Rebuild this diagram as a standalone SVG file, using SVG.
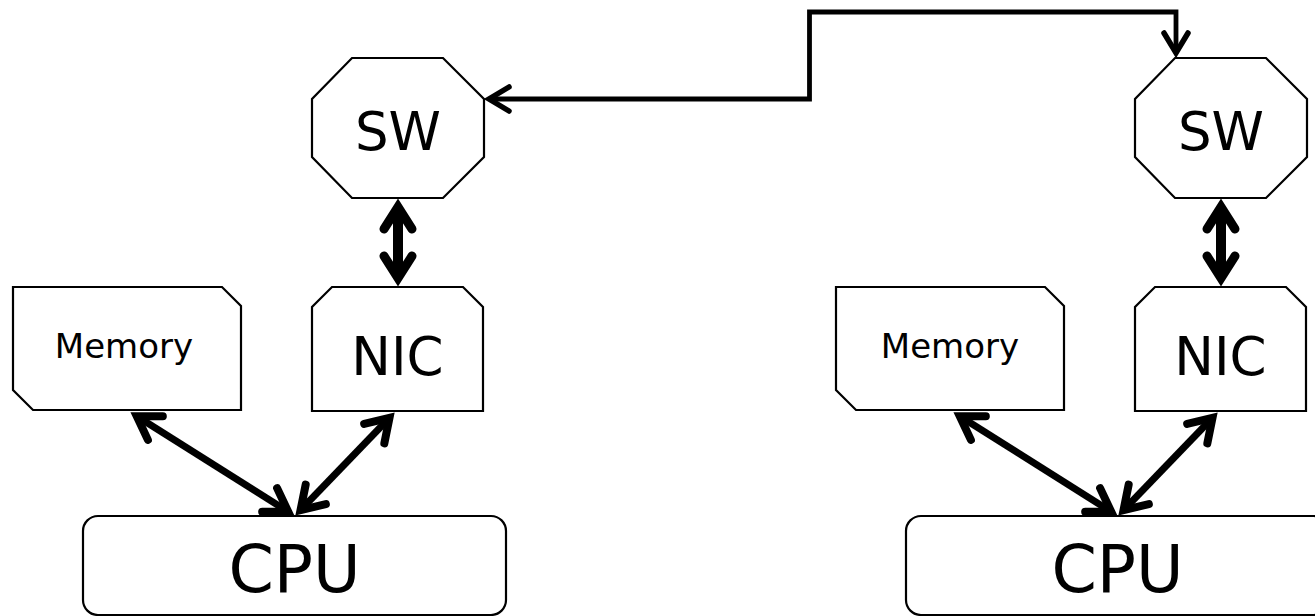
<svg xmlns="http://www.w3.org/2000/svg" width="1315" height="616" viewBox="0 0 1315 616">
<style>
.shape{fill:#fff;stroke:#000;stroke-width:2.2;stroke-linejoin:miter}
.lbl{font-family:"DejaVu Sans","Liberation Sans",sans-serif;fill:#000;text-anchor:middle}
.big{font-size:53px}
.cpu{font-size:65px}
.mem{font-size:34px}
.bus{fill:none;stroke:#000;stroke-width:4.8;marker-start:url(#ah-bus);marker-end:url(#ah-bus)}
.vert{fill:none;stroke:#000;stroke-width:10;marker-start:url(#ah-vert);marker-end:url(#ah-vert)}
.diag{fill:none;stroke:#000;stroke-width:7;marker-start:url(#ah-diag);marker-end:url(#ah-diag)}
</style>
<defs>
<marker id="ah-bus" markerUnits="userSpaceOnUse" refX="-6" refY="0" markerWidth="60" markerHeight="60" orient="auto-start-reverse" overflow="visible">
<path d="M-25,-12 L-5,0 L-25,12" fill="none" stroke="#000" stroke-width="5.5" stroke-linecap="round" stroke-linejoin="miter"/>
</marker>
<marker id="ah-vert" markerUnits="userSpaceOnUse" refX="-12" refY="0" markerWidth="80" markerHeight="80" orient="auto-start-reverse" overflow="visible">
<path d="M-31,-14 L-9,0 L-31,14" fill="none" stroke="#000" stroke-width="9" stroke-linecap="round" stroke-linejoin="miter"/>
</marker>
<marker id="ah-diag" markerUnits="userSpaceOnUse" refX="-9" refY="0" markerWidth="80" markerHeight="80" orient="auto-start-reverse" overflow="visible">
<path d="M-30,-14 L-8,0 L-30,14" fill="none" stroke="#000" stroke-width="8" stroke-linecap="round" stroke-linejoin="miter"/>
</marker>
</defs>
<g id="connectors">
<path class="bus" d="M490,99 H809.5 V12 H1176 V52"/>
<path class="vert" d="M398,210 V275"/>
<path class="diag" d="M137.6,416.8 L287.4,511.2"/>
<path class="diag" d="M388.8,418.5 L301.2,509.5"/>
<path class="vert" d="M1221,210 V275"/>
<path class="diag" d="M960.6,416.8 L1110.4,511.2"/>
<path class="diag" d="M1211.8,418.5 L1124.2,509.5"/>
</g>
<g id="sw-left">
<polygon class="shape" points="352,58 443,58 484,99 484,157 443,198 352,198 312,157 312,99"/>
<text class="lbl big" x="398" y="150">SW</text>
</g>
<g id="nic-left">
<polygon class="shape" points="332,287 463,287 483,307 483,411 312,411 312,307"/>
<text class="lbl big" x="397.5" y="375">NIC</text>
</g>
<g id="memory-left">
<polygon class="shape" points="13,287 222,287 241,306 241,410 33,410 13,390"/>
<text class="lbl mem" x="124" y="358">Memory</text>
</g>
<g id="cpu-left">
<rect class="shape" x="83" y="516" width="423" height="99" rx="15"/>
<text class="lbl cpu" x="294.5" y="592">CPU</text>
</g>
<g id="sw-right">
<polygon class="shape" points="1175,58 1266,58 1307,99 1307,157 1266,198 1175,198 1135,157 1135,99"/>
<text class="lbl big" x="1221" y="150">SW</text>
</g>
<g id="nic-right">
<polygon class="shape" points="1155,287 1286,287 1306,307 1306,411 1135,411 1135,307"/>
<text class="lbl big" x="1220.5" y="375">NIC</text>
</g>
<g id="memory-right">
<polygon class="shape" points="836,287 1045,287 1064,306 1064,410 856,410 836,390"/>
<text class="lbl mem" x="950" y="358">Memory</text>
</g>
<g id="cpu-right">
<rect class="shape" x="906" y="516" width="423" height="99" rx="15"/>
<text class="lbl cpu" x="1117.5" y="592">CPU</text>
</g>
</svg>
